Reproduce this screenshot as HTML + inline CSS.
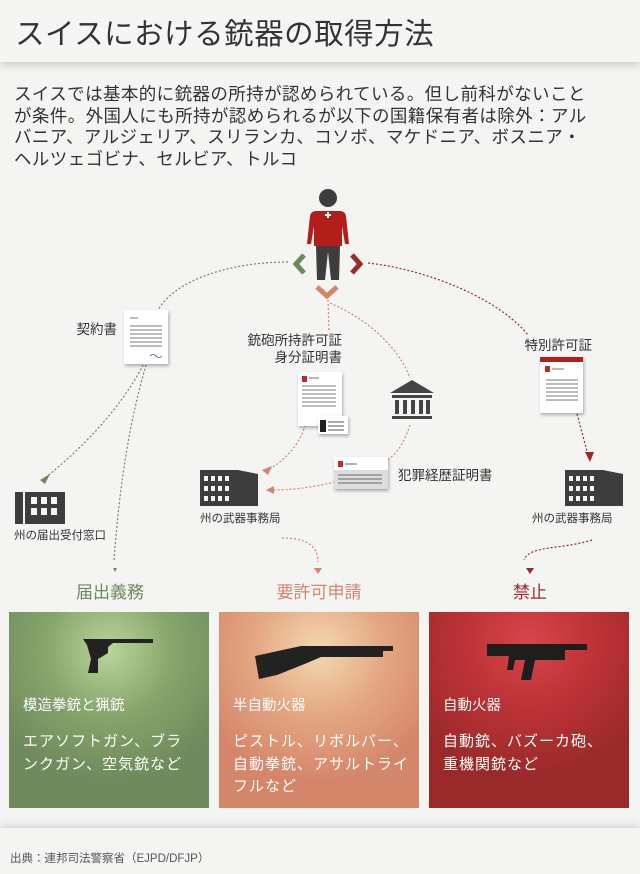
<!DOCTYPE html>
<html><head><meta charset="utf-8"><style>
body{margin:0;width:640px;height:874px;background:#f4f4f2;font-family:"Liberation Sans","Noto Sans CJK JP",sans-serif;position:relative;overflow:hidden;color:#333}
.hdr{position:absolute;left:0;top:0;width:640px;height:62px;background:#f5f5f3;box-shadow:0 3px 8px rgba(0,0,0,.18)}
.hdr h1{margin:0;position:absolute;left:15px;top:11px;font-size:29.5px;font-weight:normal;color:#333;letter-spacing:.5px;white-space:nowrap}
.intro{position:absolute;left:14px;top:84px;width:630px;font-size:17.5px;line-height:21.6px;color:#333;letter-spacing:0.4px;white-space:nowrap}
.panel{position:absolute;top:612px;width:200px;height:196px;color:#fff}
.pt{position:absolute;left:14px;top:82px;font-size:14.5px}
.pd{position:absolute;left:14px;top:119px;font-size:15px;line-height:22.5px;width:190px;letter-spacing:1px;white-space:nowrap}
.foot{position:absolute;left:0;top:828px;width:640px;height:46px;background:#f4f4f2;box-shadow:0 -3px 8px rgba(0,0,0,.12)}
.foot span{position:absolute;left:10px;top:22px;font-size:11.5px;color:#555}
svg text{font-family:"Liberation Sans","Noto Sans CJK JP",sans-serif}
</style></head><body>
<div class="hdr"><h1>スイスにおける銃器の取得方法</h1></div>
<div class="intro">スイスでは基本的に銃器の所持が認められている。但し前科がないこと<br>が条件。外国人にも所持が認められるが以下の国籍保有者は除外：アル<br>バニア、アルジェリア、スリランカ、コソボ、マケドニア、ボスニア・<br>ヘルツェゴビナ、セルビア、トルコ</div>

<svg style="position:absolute;left:0;top:0" width="640" height="610">
<defs>
<filter id="sh" x="-20%" y="-20%" width="150%" height="150%"><feDropShadow dx="1" dy="2" stdDeviation="1.5" flood-opacity=".3"/></filter>
</defs>
<g fill="none" stroke-dasharray="2,2" stroke-width="1.2">
<path d="M288 262 C230 262 175 280 158 310" stroke="#6d8a5d"/>
<path d="M143 365 C120 410 80 450 45 478" stroke="#6d8a5d"/>
<path d="M146 365 C130 420 120 480 114 560" stroke="#6d8a5d"/>
<path d="M368 263 C430 270 500 300 528 335" stroke="#9b2a2a"/>
<path d="M576 410 L588 455" stroke="#9b2a2a"/>
<path d="M592 540 C560 550 530 545 524 560" stroke="#9b2a2a"/>
<path d="M328 300 L329 330" stroke="#d4856a"/>
<path d="M330 303 C370 320 400 350 410 378" stroke="#d4856a"/>
<path d="M305 425 C300 445 285 460 268 470" stroke="#d4856a"/>
<path d="M410 425 C405 440 400 450 388 460" stroke="#d4856a"/>
<path d="M335 482 C310 488 290 490 272 490" stroke="#d4856a"/>
<path d="M282 538 C310 538 318 548 318 562" stroke="#d4856a"/>
</g>
<polygon points="40,480 50,474 45,484" fill="#6d8a5d"/>
<polygon points="585,452 594,452 590,462" fill="#9b2a2a"/>
<polygon points="262,470 272,466 268,475" fill="#d4856a"/>
<polygon points="266,490 274,486 274,494" fill="#d4856a"/>
<polygon points="113,568 117,568 115,572" fill="#6d8a5d"/>
<polygon points="314,568 322,568 318,574" fill="#d4856a"/>
<polygon points="526,568 534,568 530,574" fill="#9b2a2a"/>
<circle cx="328" cy="198" r="9" fill="#3d3d3d"/>
<path d="M316 211 h24 q5 0 6 5 l3 28 h-4 l-3 -18 v20 h-28 v-20 l-3 18 h-4 l3 -28 q1 -5 6 -5z" fill="#b21e1a"/>
<rect x="325" y="214" width="6" height="2" fill="#fff"/><rect x="327" y="212" width="2" height="6" fill="#fff"/>
<path d="M316 246 h24 l-1 34 h-8 l-3 -28 l-3 28 h-8z" fill="#3d3d3d"/>
<path d="M304 255 l-8 9 l8 9" stroke="#6d8a5d" stroke-width="5" fill="none"/>
<path d="M352 255 l8 9 l-8 9" stroke="#9b2a2a" stroke-width="5" fill="none"/>
<path d="M317 287 l10 9 l10 -9" stroke="#d4856a" stroke-width="5" fill="none"/>
<g filter="url(#sh)"><rect x="124" y="310" width="44" height="54" fill="#fff"/></g>
<g stroke="#777" stroke-width="1"><path d="M130 318h8M130 326h32M130 330h32M130 334h32M130 338h32M130 342h32M130 346h32"/></g>
<path d="M150 356 q3 -3 6 0 t6 0" stroke="#34a" fill="none" stroke-width=".8"/>
<text x="117" y="334" font-size="13.5" text-anchor="end" fill="#333">契約書</text>
<text x="342" y="345" font-size="13.5" text-anchor="end" fill="#333">銃砲所持許可証</text>
<text x="342" y="362" font-size="13.5" text-anchor="end" fill="#333">身分証明書</text>
<text x="592" y="350" font-size="13.5" text-anchor="end" fill="#333">特別許可証</text>
<text x="398" y="480" font-size="13.5" fill="#333">犯罪経歴証明書</text>
<g filter="url(#sh)"><rect x="298" y="372" width="44" height="54" fill="#fff"/></g>
<rect x="302" y="376" width="5" height="6" fill="#c0282a"/>
<g stroke="#777"><path d="M309 378h10M302 386h34M302 390h34M302 394h34M302 398h34M302 402h34M302 406h34"/></g>
<g filter="url(#sh)"><rect x="318" y="416" width="30" height="18" fill="#fff"/></g>
<rect x="320" y="420" width="6" height="12" fill="#222"/><g stroke="#555"><path d="M328 422h16M328 426h16M328 430h16"/></g>
<g fill="#444"><polygon points="412,380 390,393 434,393"/><rect x="392" y="395" width="40" height="3"/><rect x="395" y="400" width="4" height="14"/><rect x="403" y="400" width="4" height="14"/><rect x="411" y="400" width="4" height="14"/><rect x="419" y="400" width="4" height="14"/><rect x="426" y="400" width="4" height="14"/><rect x="392" y="416" width="40" height="3"/></g>
<g filter="url(#sh)"><rect x="334" y="457" width="54" height="32" fill="#fff"/></g>
<rect x="334" y="470" width="54" height="19" fill="#ddd"/>
<rect x="338" y="461" width="5" height="6" fill="#c0282a"/>
<g stroke="#666"><path d="M345 464h12M338 475h44M338 479h44M338 483h44"/></g>
<g filter="url(#sh)"><rect x="540" y="357" width="43" height="56" fill="#fff"/></g>
<rect x="540" y="357" width="43" height="5" fill="#b21e1a"/>
<rect x="545" y="366" width="5" height="6" fill="#c0282a"/>
<g stroke="#777"><path d="M552 369h12M546 380h32M546 384h32M546 388h32M546 392h32M546 396h32M546 400h32"/></g>
<g fill="#3d3d3d">
<rect x="15" y="492" width="8" height="32"/><rect x="25" y="492" width="40" height="32"/>
<rect x="200" y="470" width="38" height="36"/><polygon points="238,470 258,474 258,506 238,506"/>
<rect x="565" y="470" width="38" height="36"/><polygon points="603,470 623,474 623,506 603,506"/>
</g>
<g fill="#f4f4f2">
<rect x="31" y="497" width="6" height="7"/><rect x="41" y="497" width="6" height="7"/><rect x="51" y="497" width="6" height="7"/>
<rect x="31" y="508" width="6" height="7"/><rect x="41" y="508" width="6" height="7"/><rect x="51" y="508" width="6" height="7"/>
</g>
<g fill="#f4f4f2" id="w">
<rect x="204" y="476" width="4" height="5"/><rect x="211" y="476" width="4" height="5"/><rect x="218" y="476" width="4" height="5"/><rect x="225" y="476" width="4" height="5"/>
<rect x="204" y="486" width="4" height="5"/><rect x="211" y="486" width="4" height="5"/><rect x="218" y="486" width="4" height="5"/><rect x="225" y="486" width="4" height="5"/>
<rect x="204" y="496" width="4" height="5"/><rect x="211" y="496" width="4" height="5"/><rect x="218" y="496" width="4" height="5"/><rect x="225" y="496" width="4" height="5"/>
</g>
<use href="#w" x="365"/>
<text x="14" y="539" font-size="11.5" fill="#333">州の届出受付窓口</text>
<text x="200" y="522" font-size="11.5" fill="#333">州の武器事務局</text>
<text x="532" y="522" font-size="11.5" fill="#333">州の武器事務局</text>
<text x="110" y="598" font-size="17" text-anchor="middle" fill="#6d8a5d">届出義務</text>
<text x="319" y="598" font-size="17" text-anchor="middle" fill="#d4856a">要許可申請</text>
<text x="530" y="598" font-size="17" text-anchor="middle" fill="#9b2a2a">禁止</text>
</svg>

<div class="panel" style="left:9px;background:radial-gradient(circle at 50% 20%,#b9d59a 0,#87a46b 35%,#6f8a5c 70%)">
<svg width="200" height="80" style="position:absolute;top:0;left:0"><path d="M74 27h70v4h-40l-5 4v6l-10 6v14h-10l3 -14l-4 -14z" fill="#222"/></svg>
<div class="pt">模造拳銃と猟銃</div>
<div class="pd">エアソフトガン、ブラ<br>ンクガン、空気銃など</div></div>
<div class="panel" style="left:219px;background:radial-gradient(circle at 50% 20%,#f4d9b0 0,#e4a782 35%,#d4866a 70%)">
<svg width="200" height="80" style="position:absolute;top:0;left:0"><path d="M36 44l46 -10h92v5h-10v6h-62l-14 6l-30 12l-18 4z" fill="#222"/></svg>
<div class="pt">半自動火器</div>
<div class="pd">ピストル、リボルバー、<br>自動拳銃、アサルトライ<br>フルなど</div></div>
<div class="panel" style="left:429px;background:radial-gradient(circle at 50% 15%,#d8454a 0,#bc3236 35%,#9a2a2a 70%)">
<svg width="200" height="80" style="position:absolute;top:0;left:0"><path d="M58 32h100v6h-22v10h-30l-4 20h-10l4 -20h-10l-2 10h-6l2-14h-22z" fill="#1e1e1e"/></svg>
<div class="pt">自動火器</div>
<div class="pd">自動銃、バズーカ砲、<br>重機関銃など</div></div>
<div class="foot"><span>出典：連邦司法警察省（EJPD/DFJP）</span></div>
</body></html>
